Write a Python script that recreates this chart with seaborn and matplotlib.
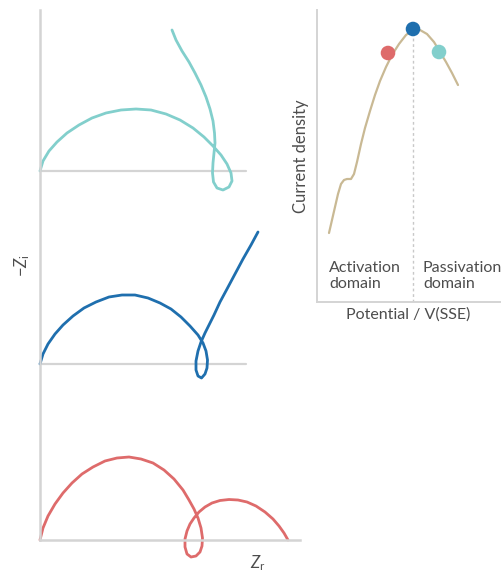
import matplotlib
matplotlib.use("Agg")
import matplotlib.pyplot as plt
import seaborn as sns
import pandas as pd

# Nyquist curves (Z_r, -Z_i), arbitrary units, each relative to its own baseline
red_zr = [0.0, 0.3, 0.8, 1.5, 2.3, 3.2, 4.2, 5.3, 6.5, 7.7, 8.9, 10.1, 11.3, 12.4, 13.4, 14.3,
          14.9, 15.4, 15.8, 16.1, 16.25, 16.2, 16.0, 15.6, 15.1, 14.7, 14.5, 14.5, 14.7, 15.0,
          15.4, 15.9, 16.5, 17.2, 18.0, 18.9, 19.8, 20.7, 21.6, 22.5, 23.3, 23.9, 24.4, 24.8]
red_zi = [0.0, 1.2, 2.4, 3.6, 4.7, 5.7, 6.6, 7.3, 7.9, 8.2, 8.3, 8.1, 7.7, 7.0, 6.1, 5.0,
          4.0, 3.1, 2.2, 1.2, 0.2, -0.6, -1.2, -1.6, -1.7, -1.4, -0.7, 0.1, 0.9, 1.6,
          2.2, 2.8, 3.3, 3.7, 3.95, 4.05, 4.0, 3.8, 3.4, 2.8, 2.1, 1.4, 0.7, 0.0]

blue_zr = [0.0, 0.3, 0.8, 1.5, 2.3, 3.3, 4.4, 5.6, 6.9, 8.2, 9.5, 10.8, 12.0, 13.1, 14.1, 15.0,
           15.8, 16.3, 16.6, 16.75, 16.7, 16.5, 16.15, 15.8, 15.6, 15.6, 15.8, 16.1, 16.5,
           16.9, 17.4, 18.0, 18.7, 19.5, 20.3, 21.1, 21.8]
blue_zi = [0.0, 1.0, 2.0, 3.0, 3.9, 4.8, 5.6, 6.2, 6.7, 6.9, 6.9, 6.6, 6.1, 5.5, 4.7, 3.8,
           2.9, 2.1, 1.3, 0.4, -0.4, -1.0, -1.4, -1.2, -0.6, 0.3, 1.3, 2.2, 3.1,
           3.9, 4.9, 6.2, 7.5, 9.0, 10.5, 11.9, 13.2]

cyan_zr = [0.0, 0.3, 0.9, 1.7, 2.7, 3.9, 5.2, 6.6, 8.1, 9.6, 11.1, 12.6, 14.0, 15.3, 16.4,
           17.3, 18.1, 18.7, 19.1, 19.2, 18.9, 18.3, 17.7, 17.35, 17.25, 17.3, 17.4, 17.5,
           17.45, 17.3, 17.0, 16.6, 16.1, 15.5, 14.9, 14.2, 13.6, 13.2]
cyan_zi = [0.0, 1.0, 2.0, 2.9, 3.8, 4.6, 5.3, 5.8, 6.1, 6.2, 6.1, 5.7, 5.1, 4.3, 3.4,
           2.5, 1.6, 0.7, -0.2, -1.0, -1.6, -1.9, -1.7, -1.1, -0.2, 0.8, 1.8, 2.8,
           3.8, 5.0, 6.2, 7.4, 8.6, 9.8, 10.9, 12.0, 13.1, 14.1]

# polarisation curve for the inset
potential = [1.2, 1.5, 1.8, 2.1, 2.4, 2.7, 3.0, 3.4, 3.7, 4.0, 4.4, 4.8, 5.3, 5.8, 6.3, 6.9,
             7.5, 8.2, 8.9, 9.6, 10.3, 11.0, 11.7, 12.3, 12.9, 13.5, 14.1]
current = [6.9, 8.2, 9.5, 10.8, 11.8, 12.2, 12.3, 12.3, 12.8, 14.0, 15.8, 17.4, 19.1, 20.7, 22.1, 23.5,
           24.7, 25.8, 26.7, 27.2, 27.2, 26.8, 26.0, 25.0, 24.0, 22.9, 21.7]
dot_potential = [7.1, 9.6, 12.2]
dot_current = [24.9, 27.3, 25.0]

RED, BLUE, CYAN = "#de6b6b", "#1f6fae", "#82cfcc"
GREY = "#d4d4d4"
TXT = "#4d4d4d"

sns.set_style("white")
plt.rcParams["font.family"] = ["Lato", "DejaVu Sans"]
plt.rcParams["mathtext.fontset"] = "custom"
plt.rcParams["mathtext.it"] = "Lato:italic"
plt.rcParams["mathtext.rm"] = "Lato"
plt.rcParams["lines.solid_joinstyle"] = "round"
plt.rcParams["lines.solid_capstyle"] = "round"

fig = plt.figure(figsize=(5.02, 5.76), dpi=100)

# main Nyquist panel
ax = fig.add_axes([40 / 502, 36 / 576, 260 / 502, 530 / 576])
ax.set_xlim(0, 26)
ax.set_ylim(0, 53)
offsets = {"red": 0, "blue": 17.6, "cyan": 36.9}
curves = [("red", red_zr, red_zi, RED), ("blue", blue_zr, blue_zi, BLUE), ("cyan", cyan_zr, cyan_zi, CYAN)]
for name, zr, zi, col in curves:
    off = offsets[name]
    if off > 0:
        ax.plot([0, 20.6], [off, off], color=GREY, lw=1.6, zorder=1, clip_on=False)
    df = pd.DataFrame({"zr": zr, "zi": [v + off for v in zi]})
    sns.lineplot(data=df, x="zr", y="zi", sort=False, estimator=None, color=col, lw=2.0, ax=ax)
for line in ax.lines:
    line.set_clip_on(False)
for s in ["top", "right"]:
    ax.spines[s].set_visible(False)
for s in ["left", "bottom"]:
    ax.spines[s].set_color(GREY)
    ax.spines[s].set_linewidth(1.8)
ax.set_xticks([])
ax.set_yticks([])
ax.set_xlabel("")
ax.set_ylabel("")
fig.text(22 / 502, 1 - 265 / 576, "$-Z_\\mathrm{i}$", rotation=90, ha="center", va="center",
         fontsize=12, color=TXT)
fig.text(258 / 502, 1 - 563 / 576, "$Z_\\mathrm{r}$", ha="center", va="center", fontsize=12, color=TXT)

# inset polarisation panel
ins = fig.add_axes([317 / 502, 1 - 302 / 576, 183 / 502, 292 / 576])
ins.set_xlim(0, 18.3)
ins.set_ylim(0, 29.2)
ins.plot([dot_potential[1], dot_potential[1]], [0, dot_current[1]], color="#c8c8c8", lw=1, ls=(0, (2, 2)))
sns.lineplot(x=potential, y=current, sort=False, estimator=None, color="#c9b994", lw=1.6, ax=ins)
sns.scatterplot(x=dot_potential, y=dot_current, hue=["a", "b", "c"], palette=[RED, BLUE, CYAN],
                s=110, edgecolor="none", legend=False, ax=ins, zorder=5, clip_on=False)
for s in ["top", "right"]:
    ins.spines[s].set_visible(False)
for s in ["left", "bottom"]:
    ins.spines[s].set_color(GREY)
    ins.spines[s].set_linewidth(1.4)
ins.set_xticks([])
ins.set_yticks([])
ins.set_xlabel("Potential / V(SSE)", fontsize=11.5, color=TXT, labelpad=4)
ins.set_ylabel("Current density", fontsize=12, color=TXT, labelpad=6)
ins.text(1.2, 4.1, "Activation\ndomain", ha="left", va="top", fontsize=11.5, color=TXT, linespacing=1.15)
ins.text(10.6, 4.1, "Passivation\ndomain", ha="left", va="top", fontsize=11.5, color=TXT, linespacing=1.15)

fig.savefig("out.png", dpi=100)
